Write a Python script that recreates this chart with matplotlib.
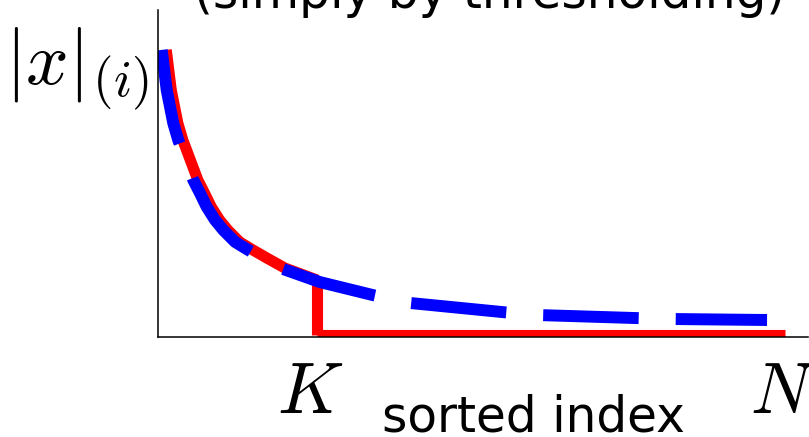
import matplotlib
matplotlib.use('Agg')
import matplotlib.pyplot as plt

plt.rcParams['mathtext.fontset'] = 'cm'

# sorted magnitudes (index 0..100, value 0..100)
idx_full = [0.57, 1.34, 2.35, 3.12, 5.43, 6.46, 7.49, 8.77, 10.05, 11.85, 13.65,
            16.0, 18.8, 24.9, 33.1, 38.8, 53.1, 58.8, 73.4, 79.1, 93.7]
mag_full = [87.8, 75.5, 65.4, 60.2, 48.0, 44.0, 39.8, 35.8, 32.7, 29.1, 26.9,
            24.2, 21.1, 16.8, 12.8, 10.4, 7.6, 6.7, 5.8, 5.5, 5.2]

idx_thr = [1.27, 2.04, 3.05, 3.82, 6.13, 7.16, 8.19, 9.47, 10.75, 12.55, 14.35,
           16.7, 19.5, 24.5]
mag_thr = [87.8, 75.5, 65.4, 60.2, 48.0, 44.0, 39.8, 35.8, 32.7, 29.1, 26.9,
           24.2, 21.1, 17.4]

K = 24.5
N = 96.5
zero_level = 0.6

fig = plt.figure(figsize=(8.09, 4.37), dpi=100)
ax = fig.add_axes([158 / 809, 100 / 437, 650 / 809, 327 / 437])

# thresholded (keep K largest, rest zero)
ax.plot(idx_thr, mag_thr, color='red', lw=8, solid_capstyle='butt')
ax.plot([K, K], [mag_thr[-1], zero_level], color='red', lw=8, solid_capstyle='butt')
ax.plot([K, N], [zero_level, zero_level], color='red', lw=8, solid_capstyle='butt')

# original
ax.plot(idx_full, mag_full, color='blue', lw=8.6, linestyle=(0, (8.0, 3.1)),
        dash_capstyle='butt')

ax.set_xlim(0, 100)
ax.set_ylim(0, 100)
ax.set_xticks([])
ax.set_yticks([])
for s in ['top', 'right']:
    ax.spines[s].set_visible(False)
for s in ['left', 'bottom']:
    ax.spines[s].set_linewidth(1.1)

fig.text(5 / 809, (437 - 85) / 437, r'$|x|_{(i)}$', fontsize=54, va='baseline', ha='left')
fig.text(310 / 809, (437 - 413) / 437, r'$K$', fontsize=52, va='baseline', ha='center')
fig.text(750 / 809, (437 - 413) / 437, r'$N$', fontsize=52, va='baseline', ha='left')
fig.text(533 / 809, (437 - 432) / 437, 'sorted index', fontsize=35, va='baseline', ha='center')
fig.text(490 / 809, (437 - 8) / 437, '(simply by thresholding)', fontsize=35, va='baseline', ha='center')

fig.savefig('out.png', dpi=100)
